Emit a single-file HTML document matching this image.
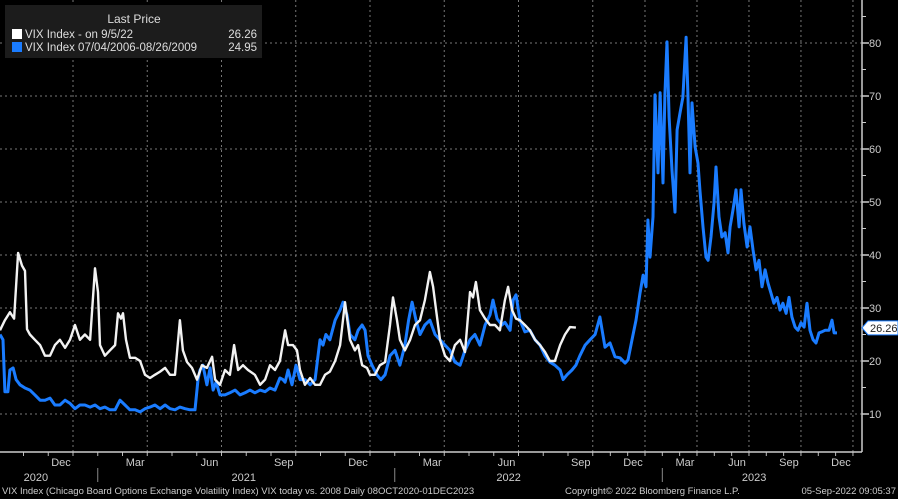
<!DOCTYPE html>
<html><head><meta charset="utf-8"><style>
html,body{margin:0;padding:0;background:#000;}
svg{display:block;font-family:"Liberation Sans",sans-serif;}
</style></head><body>
<svg id="chart" width="898" height="499" viewBox="0 0 898 499" xmlns="http://www.w3.org/2000/svg">
<rect width="898" height="499" fill="#000"/>
<g id="grid"></g>
<g id="series"></g>
<g id="axes"></g>
<g>
<rect x="5" y="5" width="257" height="53" fill="#1c1c1c"/>
<text x="134" y="23" fill="#ddd" font-size="12" text-anchor="middle">Last Price</text>
<rect x="12" y="29" width="10" height="10" fill="#fff"/>
<text x="25" y="38" fill="#ddd" font-size="11.5">VIX Index -  on 9/5/22</text>
<text x="257" y="38" fill="#ddd" font-size="11.5" text-anchor="end">26.26</text>
<rect x="12" y="42" width="10" height="10" fill="#1a7cff"/>
<text x="25" y="51" fill="#ddd" font-size="11.5">VIX Index 07/04/2006-08/26/2009</text>
<text x="257" y="51" fill="#ddd" font-size="11.5" text-anchor="end">24.95</text>
</g>
<g font-size="9.5" fill="#ccc">
<text x="2" y="494">VIX Index (Chicago Board Options Exchange Volatility Index) VIX today vs. 2008  Daily 08OCT2020-01DEC2023</text>
<text x="565" y="494">Copyright© 2022 Bloomberg Finance L.P.</text>
<text x="896" y="494" text-anchor="end">05-Sep-2022 09:05:37</text>
</g>
</svg>
<script>
const yTicks=[10,20,30,40,50,60,70,80];
const monthTicks=[2,5,8,11,14,17,20,23,26,29,32,35,38];
const monthLabels=["Dec","Mar","Jun","Sep","Dec","Mar","Jun","Sep","Dec","Mar","Jun","Sep","Dec"];
const yearLabels=["2020","2021","2022","2023"];
const yearPos=[0.5,8.9,19.6,32.3];
const yearBreaks=[3,15,27];
const whiteT=[-0.95,-0.75,-0.55,-0.38,-0.22,-0.06,0.06,0.14,0.26,0.46,0.67,0.87,1.07,1.27,1.47,1.68,1.88,2.08,2.28,2.48,2.69,2.89,3.01,3.09,3.29,3.49,3.70,3.82,3.94,4.02,4.14,4.30,4.51,4.71,4.91,5.11,5.31,5.52,5.72,5.92,6.12,6.32,6.44,6.61,6.81,7.01,7.21,7.41,7.62,7.74,7.94,8.14,8.34,8.51,8.67,8.87,9.07,9.35,9.56,9.76,9.96,10.16,10.36,10.57,10.69,10.89,11.05,11.17,11.37,11.58,11.78,11.98,12.18,12.38,12.59,12.79,12.99,13.19,13.39,13.52,13.68,13.88,14.00,14.20,14.40,14.61,14.81,14.93,15.09,15.21,15.41,15.62,15.82,16.02,16.22,16.42,16.55,16.67,16.83,17.03,17.23,17.43,17.64,17.84,18.04,18.16,18.28,18.44,18.65,18.85,19.05,19.25,19.45,19.58,19.74,19.90,20.06,20.26,20.46,20.67,20.87,21.07,21.27,21.47,21.68,21.88,22.08,22.32];
const whiteV=[25.8,27.7,29.2,28,40.4,38,37,26,25,24,23,21,21,23,24,22.5,24,26.8,24,25,24,37.5,33,23,21,22,23,29,28,29,24,20.6,20.6,20,17.4,16.8,17.4,18,18.7,17.4,17.4,27.7,22,19.8,18.7,16.5,19.2,18.7,20.8,16.5,15.5,18.3,17.4,23,18.3,19.2,18.3,17.4,15.5,16.5,19.2,18.3,20,25.8,23,23,22,18.3,15.5,16.8,15.5,15.5,17.4,18,20,23,31.1,24,22,23,19.2,18.7,17.4,17.4,19.2,19.8,26.8,32,27.7,24,22,24,26.8,27.7,31.5,36.8,34,29.6,24,21,20,23,24,21.7,33,32,34.9,29.6,28,26.8,26.8,25.8,31.5,34,29.6,28,27.7,26.8,25.8,24,23,21.7,20,20,23,25,26.4,26.3];
const blueT=[-0.95,-0.83,-0.75,-0.63,-0.55,-0.42,-0.30,-0.14,0.06,0.26,0.46,0.67,0.87,1.07,1.27,1.47,1.68,1.88,2.08,2.28,2.48,2.69,2.89,3.09,3.29,3.49,3.70,3.90,4.10,4.30,4.51,4.71,4.91,5.11,5.31,5.52,5.72,5.92,6.12,6.32,6.53,6.73,6.93,7.05,7.13,7.25,7.41,7.54,7.66,7.78,7.94,8.14,8.34,8.55,8.75,8.95,9.15,9.35,9.56,9.76,9.96,10.16,10.36,10.48,10.57,10.69,10.85,11.01,11.17,11.37,11.58,11.78,11.98,12.10,12.22,12.38,12.59,12.79,12.91,13.07,13.19,13.39,13.52,13.68,13.80,13.92,14.08,14.28,14.44,14.61,14.81,15.01,15.21,15.41,15.56,15.70,15.86,16.02,16.22,16.42,16.63,16.83,17.03,17.23,17.43,17.64,17.84,18.04,18.24,18.44,18.65,18.85,18.97,19.13,19.33,19.45,19.66,19.78,19.90,20.06,20.26,20.46,20.67,20.87,21.07,21.27,21.47,21.68,21.80,21.96,22.16,22.32,22.48,22.69,22.89,23.12,23.40,23.69,23.98,24.27,24.56,24.85,25.02,25.25,25.48,25.71,25.89,26.06,26.17,26.29,26.46,26.58,26.75,26.87,27.04,27.15,27.27,27.39,27.56,27.73,27.85,28.02,28.19,28.37,28.48,28.60,28.71,28.89,29.06,29.17,29.35,29.52,29.64,29.81,29.98,30.10,30.27,30.44,30.62,30.79,30.91,31.08,31.25,31.43,31.54,31.71,31.89,32.06,32.23,32.41,32.58,32.75,32.93,33.10,33.27,33.44,33.62,33.79,33.96,34.14,34.31,34.48,34.66,34.83,35.00,35.18,35.35,35.52,35.70,35.87,36.04,36.21,36.39,36.62,36.79,36.91,37.08];
const blueV=[25,24,14.2,14.2,18.3,18.7,16.5,15.5,14.9,14.5,13.6,12.6,12.6,13,11.7,11.7,12.6,12,11,11.7,11.7,11.3,11.7,11,11.3,10.8,10.8,12.6,11.7,10.8,10.8,10.4,11,11.3,11.7,11,11.7,11,10.8,11.3,11,10.8,10.8,16.5,18.3,19.2,15.5,18.7,14.5,16,13.6,13.6,14,14.5,13.6,14,14.5,14,14.5,14.2,14.9,14.5,16.8,16.5,16,18.3,15.5,19.2,16.5,16.5,15.5,16.5,24,23,25,24,27.7,29.6,31.1,28.7,25,24,25.8,26.8,25.8,21,19.2,17.4,16.5,17.4,21,22,19.2,23,27.7,31.1,27.7,25,26.8,27.7,25,24,23,22,19.8,19.2,22,24,25,23,26.8,28.7,31.5,28,26.8,27.3,25.8,31.5,32.5,27.7,25.5,25.8,24,23,21,19.8,19.2,18.3,16.5,17.4,18.3,19.2,21,23,24,25,28.3,22.6,23.4,20.8,20.6,19.6,20.2,24,27.7,32.8,36.2,34,46.6,39.6,47.2,70.2,55.5,70.6,53.6,70.2,80.2,66,56,48.1,63.6,66.8,69.8,81.1,69.8,55.5,68.7,60.4,57.3,52.3,45.3,39.6,39,43.4,49.8,56.6,47.2,43.4,44.2,40.4,45.3,48.5,52.3,45.3,52.3,46,41.5,45.3,41,37.2,39,34,37.2,34.7,32.8,30.9,32,29.6,30.9,29,32,28.3,26.4,25.8,27.2,26.4,30.9,25.8,24,23.4,25.3,25.5,25.8,25.8,27.7,25.3,25.3];
const lastValue=26.26;

const NS="http://www.w3.org/2000/svg";
function xs(t){return t<=23?23.5+24.75*t:593+17.33*(t-23);}
function ys(v){return 43+(80-v)*5.3;}
function mk(tag,attrs,parent){const e=document.createElementNS(NS,tag);for(const k in attrs)e.setAttribute(k,attrs[k]);parent.appendChild(e);return e;}
const grid=document.getElementById('grid'),axes=document.getElementById('axes'),ser=document.getElementById('series');
const AX=862,BOT=452;
yTicks.forEach(v=>{
  const l=mk('line',{x1:0,x2:AX,y1:ys(v),y2:ys(v),stroke:'#777','stroke-width':1,'stroke-dasharray':'2,3'},grid);
  
  
  const tk=mk('line',{x1:AX,x2:AX+7,y1:ys(v),y2:ys(v),stroke:'#ccc','stroke-width':1.5},axes);
  
  
  const mt=mk('line',{x1:AX,x2:AX+4,y1:ys(v+5),y2:ys(v+5),stroke:'#ccc','stroke-width':1},axes);
  
  
  const tx=mk('text',{x:AX+7,y:ys(v)+4,fill:'#ccc','font-size':11},axes);
  
  
  tx.textContent=v;
});
monthTicks.forEach((t,i)=>{
  const x=xs(t);
  if(x<AX){
    const l=mk('line',{x1:x,x2:x,y1:0,y2:BOT,stroke:'#777','stroke-width':1,'stroke-dasharray':'2,3'},grid);
    
    
  }
  const tx=mk('text',{x:x-12,y:466,fill:'#ccc','font-size':11,'text-anchor':'middle'},axes);
  
  
  tx.textContent=monthLabels[i];
});
for(let t=-1;t<=38;t++){
  const x=xs(t);if(x<0||x>AX)continue;
  const tk=mk('line',{x1:x,x2:x,y1:BOT,y2:BOT+4,stroke:'#bbb','stroke-width':1},axes);
  
  
}
yearLabels.forEach((y,i)=>{
  const tx=mk('text',{x:xs(yearPos[i]),y:481,fill:'#ccc','font-size':11,'text-anchor':'middle'},axes);
  
  
  tx.textContent=y;
});
yearBreaks.forEach(t=>{
  const l=mk('line',{x1:xs(t),x2:xs(t),y1:468,y2:482,stroke:'#888','stroke-width':1},axes);
  
  
});
const xl=mk('line',{x1:0,x2:AX,y1:BOT,y2:BOT,stroke:'#ccc','stroke-width':1.5},axes);


const yl=mk('line',{x1:AX,x2:AX,y1:0,y2:BOT,stroke:'#ccc','stroke-width':1.5},axes);


function path(T,V){return T.map((t,i)=>(i?'L':'M')+xs(t).toFixed(1)+','+ys(V[i]).toFixed(1)).join('');}
const bp=mk('path',{d:path(blueT,blueV),fill:'none',stroke:'#1a7cff','stroke-width':3,'stroke-linejoin':'round'},ser);


const wp=mk('path',{d:path(whiteT,whiteV),fill:'none',stroke:'#f2f2f2','stroke-width':2.4,'stroke-linejoin':'round'},ser);


const ly=ys(lastValue);
const lb=mk('path',{d:`M${AX},${ly} L${AX+6},${ly-7} L898,${ly-7} L898,${ly+7} L${AX+6},${ly+7} Z`,fill:'#fff',stroke:'#1a7cff','stroke-width':1},axes);


const lt=mk('text',{x:AX+8,y:ly+4,fill:'#222','font-size':11},axes);


lt.textContent=lastValue.toFixed(2);
</script>
</body></html>
